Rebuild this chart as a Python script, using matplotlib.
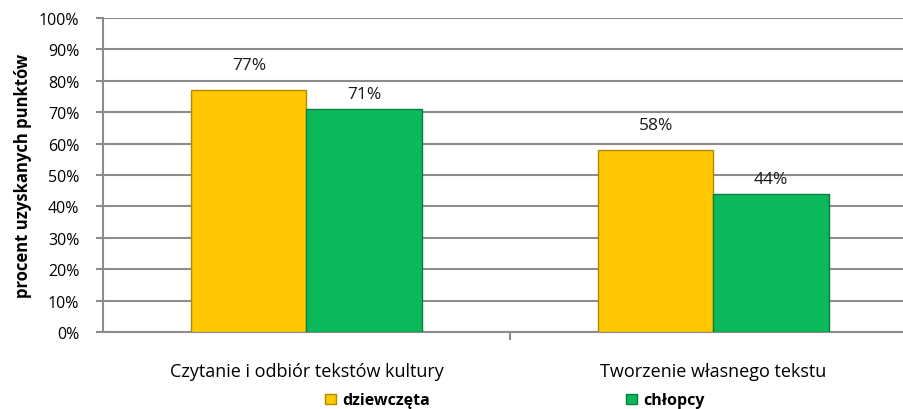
import matplotlib
matplotlib.use("Agg")
import matplotlib.pyplot as plt
import numpy as np
from matplotlib.patches import Patch

categories = ["Czytanie i odbiór tekstów kultury", "Tworzenie własnego tekstu"]
series_names = ["dziewczęta", "chłopcy"]
dziewczeta = [77, 58]
chlopcy = [71, 44]
yticks = list(range(0, 101, 10))

plt.rcParams['font.family'] = ['Open Sans', 'DejaVu Sans']

W, H = 904, 410
fig = plt.figure(figsize=(W / 100, H / 100), dpi=100)
left_px, right_px, top_px, bottom_px = 103, 917, 19, 333
ax = fig.add_axes([left_px / W, 1 - bottom_px / H, (right_px - left_px) / W, (bottom_px - top_px) / H])

x = np.arange(len(categories))
bw = 0.283
cols = ["#FFC800", "#0BB85A"]
edges = ["#B08A00", "#078040"]
label_gap = [8.0, 4.7]  # label distance above bar (style)
for i, (vals, c, e) in enumerate(zip([dziewczeta, chlopcy], cols, edges)):
    pos = x + (i - 0.5) * bw
    bars = ax.bar(pos, vals, width=bw, color=c, edgecolor=e, linewidth=1.0, zorder=3)
    for b, v in zip(bars, vals):
        ax.text(b.get_x() + b.get_width() / 2, v + label_gap[i], f"{v}%", ha="center", va="center",
                fontsize=12.5, color="#1a1a1a", zorder=4)

ax.set_xlim(-0.5, len(categories) - 0.5)
ax.set_ylim(0, 100)
ax.set_yticks(yticks)
ax.set_yticklabels([f"{t}%" for t in yticks], fontsize=11.5)
ax.yaxis.grid(True, color="#8C8C8C", linewidth=1.5, zorder=0)
ax.set_axisbelow(True)
ax.set_xticks([0.5])
ax.set_xticklabels([""])
ax.tick_params(axis="x", length=6, width=1.5, color="#8C8C8C")
ax.tick_params(axis="y", length=5, width=1.5, color="#8C8C8C", pad=12)
for s in ["top", "right"]:
    ax.spines[s].set_visible(False)
ax.spines["left"].set_color("#8C8C8C")
ax.spines["left"].set_linewidth(1.5)
ax.spines["bottom"].set_color("#8C8C8C")
ax.spines["bottom"].set_linewidth(1.5)

for xi, cat in zip(x, categories):
    ax.text(xi, -12.3, cat, ha="center", va="center", fontsize=13, clip_on=False)

ax.set_ylabel("procent uzyskanych punktów", fontsize=12, fontweight="bold", labelpad=5)

handles = [Patch(facecolor=c, edgecolor=e) for c, e in zip(cols, edges)]
leg = fig.legend(handles, series_names, loc="center", bbox_to_anchor=(515 / W, 1 - 401.5 / H),
                 ncol=2, frameon=False, prop={"weight": "bold", "size": 11.5},
                 handlelength=0.65, handleheight=0.65, handletextpad=0.4, columnspacing=12.3,
                 borderpad=0.0)

fig.savefig("out.png", dpi=100)
